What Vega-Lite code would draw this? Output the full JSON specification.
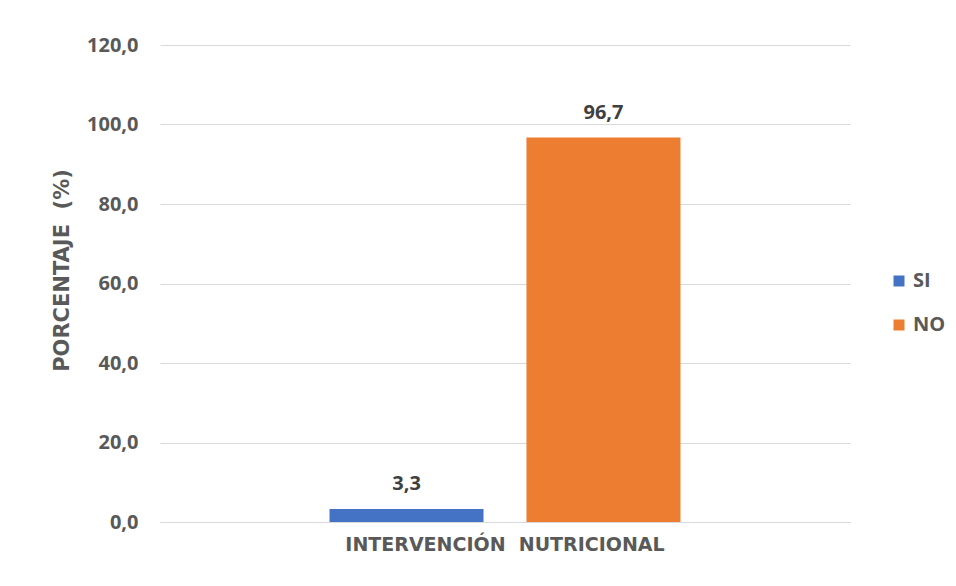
{
  "$schema": "https://vega.github.io/schema/vega-lite/v6.json",
  "autosize": "none",
  "width": 690,
  "height": 477,
  "padding": {"left": 160, "top": 45, "right": 106, "bottom": 64},
  "background": "white",
  "config": {
    "view": {"stroke": null},
    "font": "Open Sans"
  },
  "data": {
    "values": [
      {"categoria": "INTERVENCIÓN\u00a0 NUTRICIONAL", "serie": "SI", "porcentaje": 3.3},
      {"categoria": "INTERVENCIÓN\u00a0 NUTRICIONAL", "serie": "NO", "porcentaje": 96.7}
    ]
  },
  "encoding": {
    "x": {
      "field": "categoria",
      "type": "nominal",
      "scale": {"paddingInner": 0, "paddingOuter": 0.483},
      "axis": {
        "title": null,
        "labelAngle": 0,
        "labelLimit": 0,
        "labelFont": "DejaVu Sans",
        "labelFontWeight": "bold",
        "labelFontSize": 19,
        "labelColor": "#595959",
        "labelPadding": 13,
        "ticks": false,
        "domainColor": "#d9d9d9",
        "domainWidth": 1
      }
    },
    "xOffset": {
      "field": "serie",
      "type": "nominal",
      "sort": ["SI", "NO"],
      "scale": {"paddingInner": 0.218, "paddingOuter": 0}
    },
    "y": {
      "field": "porcentaje",
      "type": "quantitative",
      "scale": {"domain": [0, 120], "nice": false},
      "axis": {
        "values": [0, 20, 40, 60, 80, 100, 120],
        "labelExpr": "replace(format(datum.value, '.1f'), '.', ',')",
        "title": "PORCENTAJE\u00a0 (%)",
        "titleFont": "DejaVu Sans",
        "titleFontWeight": "bold",
        "titleFontSize": 21,
        "titleColor": "#595959",
        "titlePadding": 14,
        "titleY": 225,
        "labelFont": "Open Sans",
        "labelFontWeight": "bold",
        "labelFontSize": 20,
        "labelColor": "#595959",
        "labelPadding": 22,
        "ticks": false,
        "domain": false,
        "gridColor": "#d9d9d9",
        "gridWidth": 1
      }
    }
  },
  "layer": [
    {
      "mark": {"type": "bar"},
      "encoding": {
        "color": {
          "field": "serie",
          "type": "nominal",
          "sort": ["SI", "NO"],
          "scale": {"domain": ["SI", "NO"], "range": ["#4472c4", "#ed7d31"]},
          "legend": {
            "title": null,
            "orient": "none",
            "legendX": 729,
            "legendY": 226,
            "symbolType": "square",
            "symbolSize": 121,
            "symbolStrokeWidth": 0,
            "labelFont": "Open Sans",
            "labelFontWeight": "bold",
            "labelFontSize": 20,
            "labelColor": "#595959",
            "labelOffset": 4,
            "rowPadding": 24
          }
        }
      }
    },
    {
      "mark": {
        "type": "text",
        "baseline": "alphabetic",
        "dy": -19,
        "font": "Open Sans",
        "fontWeight": "bold",
        "fontSize": 20,
        "color": "#404040"
      },
      "encoding": {
        "text": {"field": "etiqueta", "type": "nominal"}
      },
      "transform": [
        {"calculate": "replace(format(datum.porcentaje, '.1f'), '.', ',')", "as": "etiqueta"}
      ]
    }
  ]
}
